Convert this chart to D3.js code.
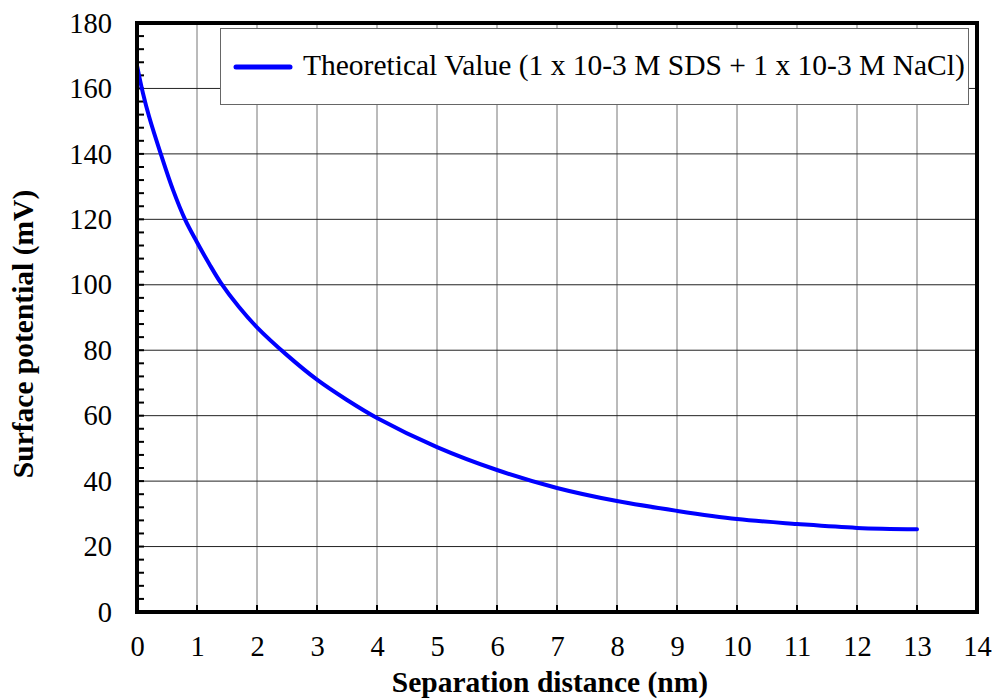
<!DOCTYPE html>
<html><head><meta charset="utf-8">
<script src="https://cdn.jsdelivr.net/npm/d3@7"></script>
<style>body{margin:0;background:#fff}svg text{font-family:"Liberation Serif","Times New Roman",serif}</style>
</head><body>
<svg id="c" width="995" height="700"></svg>
<script>
const distance = [0, 0.1, 0.2, 0.4, 0.6, 0.8, 1, 1.2, 1.4, 1.7, 2, 2.5, 3, 3.5, 4, 5, 6, 7, 8, 9, 10, 11, 12, 13];
const potential = [167, 158.5, 151.5, 139.8, 129, 120, 113, 106.5, 100.5, 93.2, 87, 78.5, 71, 64.8, 59.3, 50.4, 43.4, 37.9, 33.9, 30.9, 28.4, 26.9, 25.7, 25.3];
const xTicks = d3.range(0, 15, 1);
const yTicks = d3.range(0, 181, 20);
const yMinor = d3.range(0, 181, 4);
const seriesName = "Theoretical Value (1 x 10-3 M SDS + 1 x 10-3 M NaCl)";
const xTitle = "Separation distance (nm)";
const yTitle = "Surface potential (mV)";

const L = 137, R = 977, T = 23, B = 612;
const svg = d3.select("#c");
const x = d3.scaleLinear().domain([0, 14]).range([L, R]);
const y = d3.scaleLinear().domain([0, 180]).range([B, T]);
const serif = "'Liberation Serif', 'Times New Roman', serif";

// grid
svg.append("g").selectAll("line").data(xTicks.slice(1, -1)).join("line")
  .attr("x1", d => x(d)).attr("x2", d => x(d)).attr("y1", T).attr("y2", B)
  .attr("stroke", "#777").attr("stroke-width", 1);
svg.append("g").selectAll("line").data(yTicks.slice(1, -1)).join("line")
  .attr("x1", L).attr("x2", R).attr("y1", d => y(d)).attr("y2", d => y(d))
  .attr("stroke", "#222").attr("stroke-width", 1);

// minor ticks on y (inside)
svg.append("g").selectAll("line").data(yMinor).join("line")
  .attr("x1", L).attr("x2", L + 7).attr("y1", d => y(d)).attr("y2", d => y(d))
  .attr("stroke", "#000").attr("stroke-width", 2);
// x ticks inside
svg.append("g").selectAll("line").data(xTicks).join("line")
  .attr("x1", d => x(d)).attr("x2", d => x(d)).attr("y1", B).attr("y2", B - 7)
  .attr("stroke", "#000").attr("stroke-width", 2);

// axes labels
const xAxis = d3.axisBottom(x).tickValues(xTicks).tickSize(0).tickPadding(24).tickFormat(d3.format("d"));
const gx = svg.append("g").attr("transform", `translate(0,${B})`).call(xAxis);
gx.select(".domain").remove();
gx.attr("font-family", serif).attr("font-size", 28.5);
gx.selectAll("text").style("font-size", "28.5px").style("font-family", serif).attr("fill", "#000");
const yAxis = d3.axisLeft(y).tickValues(yTicks).tickSize(0).tickPadding(25).tickFormat(d3.format("d"));
const gy = svg.append("g").attr("transform", `translate(${L},0)`).call(yAxis);
gy.select(".domain").remove();
gy.attr("font-family", serif).attr("font-size", 28.5);
gy.selectAll("text").style("font-size", "28.5px").style("font-family", serif).attr("fill", "#000");

// curve
const line = d3.line().x((d, i) => x(distance[i])).y(d => y(d)).curve(d3.curveCatmullRom.alpha(0.5));
svg.append("path").datum(potential).attr("d", line)
  .attr("fill", "none").attr("stroke", "#0000ff").attr("stroke-width", 4).attr("stroke-linecap", "round");

// frame
svg.append("rect").attr("x", L).attr("y", T).attr("width", R - L).attr("height", B - T)
  .attr("fill", "none").attr("stroke", "#000").attr("stroke-width", 4);

// legend
const lg = svg.append("g");
lg.append("rect").attr("x", 220.5).attr("y", 28.5).attr("width", 748).attr("height", 76)
  .attr("fill", "#fff").attr("stroke", "#666").attr("stroke-width", 1);
lg.append("line").attr("x1", 236).attr("x2", 290).attr("y1", 67).attr("y2", 67)
  .attr("stroke", "#0000ff").attr("stroke-width", 5).attr("stroke-linecap", "round");
lg.append("text").attr("x", 303).attr("y", 75).style("font-size", "29.5px").style("font-family", serif).text(seriesName);

// titles
svg.append("text").attr("x", 550).attr("y", 692).attr("text-anchor", "middle")
  .style("font-size", "29.5px").style("font-family", serif).attr("font-weight", "bold").text(xTitle);
svg.append("text").attr("transform", `translate(33,334) rotate(-90)`).attr("text-anchor", "middle")
  .style("font-size", "29.5px").style("font-family", serif).attr("font-weight", "bold").text(yTitle);
</script>
</body></html>
